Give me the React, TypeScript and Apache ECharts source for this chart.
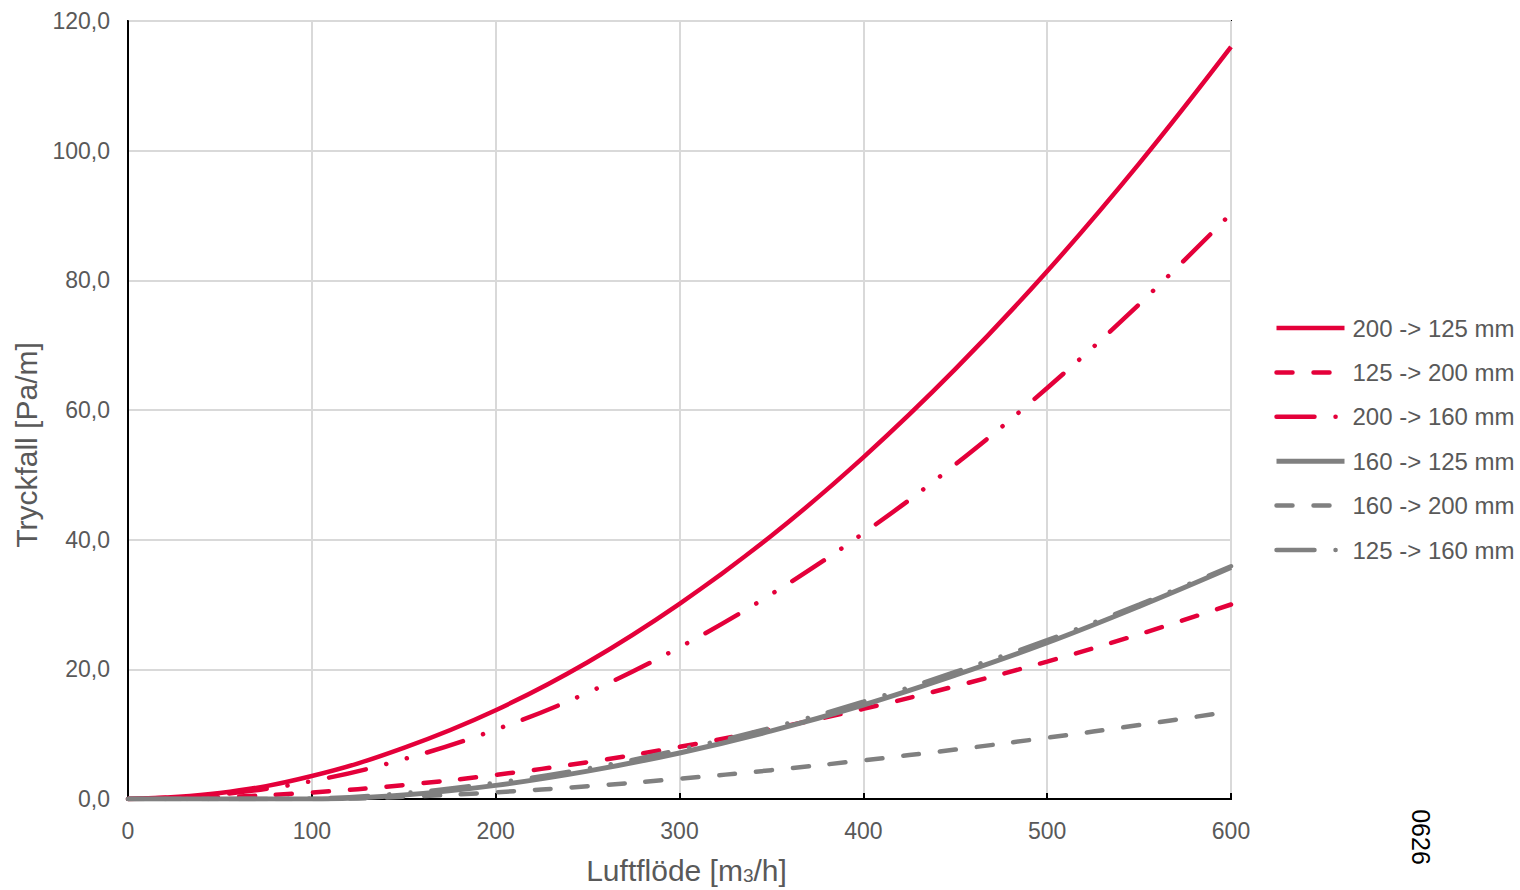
import React, { useEffect, useRef } from "react";
import * as echarts from "echarts";

const xValues = [0, 50, 100, 150, 200, 250, 300, 350, 400, 450, 500, 550, 600];
const xTicks = ["0", "100", "200", "300", "400", "500", "600"];
const yTicks = ["0,0", "20,0", "40,0", "60,0", "80,0", "100,0", "120,0"];

const s200to125 = [0, 0.92, 3.55, 7.9, 13.7, 21.1, 30.1, 40.6, 52.7, 66.3, 81.4, 98.0, 116.0];
const s125to200 = [0, 0.27, 1.0, 2.15, 3.73, 5.68, 8.04, 10.8, 13.9, 17.4, 21.2, 25.4, 30.0];
const s200to160 = [0, 0.72, 2.77, 6.15, 10.7, 16.4, 23.4, 31.6, 41.0, 51.6, 63.4, 76.3, 90.3];
const s160to125 = [0, 0, 0, 0.62, 2.1, 4.3, 7.1, 10.5, 14.5, 19.1, 24.1, 29.7, 35.7];
const s160to200 = [0, 0, 0, 0.34, 1.03, 1.97, 3.12, 4.45, 5.96, 7.63, 9.45, 11.4, 13.5];
const s125to160 = [0, 0, 0.1, 0.9, 2.5, 4.7, 7.6, 11.0, 15.0, 19.6, 24.5, 30.0, 35.9];

const seriesNames = [
  "200 -> 125 mm",
  "125 -> 200 mm",
  "200 -> 160 mm",
  "160 -> 125 mm",
  "160 -> 200 mm",
  "125 -> 160 mm",
];

const RED = "#e4003a";
const GRAY = "#808080";
const TEXT = "#595959";
const FONT = "'Liberation Sans', Arial, sans-serif";

const dashed = [16, 21];
const dashDotDot = [38, 21, 0.1, 21, 0.1, 21];

function pairs(vals: number[]) {
  return xValues.map((x, i) => [x, vals[i]]);
}

export default function App() {
  const ref = useRef<HTMLDivElement>(null);
  useEffect(() => {
    if (!ref.current) return;
    const chart = echarts.init(ref.current, undefined, { renderer: "svg" });
    const mk = (name: string, vals: number[], color: string, type: any, width: number) => ({
      name,
      type: "line",
      data: pairs(vals),
      smooth: 0.4,
      symbol: "none",
      showSymbol: false,
      lineStyle: { color, width, type, cap: type === "solid" ? "butt" : "round" },
      itemStyle: { color },
      z: 3,
    });
    const option: any = {
      animation: false,
      backgroundColor: "#ffffff",
      textStyle: { fontFamily: FONT },
      grid: {
        left: 128,
        top: 21,
        right: 289,
        bottom: 90,
        show: true,
        borderColor: "#000000",
        borderWidth: 2,
        containLabel: false,
      },
      legend: {
        orient: "vertical",
        left: 1274,
        top: 316,
        padding: 0,
        itemWidth: 68,
        itemHeight: 22,
        itemGap: 20.4,
        itemStyle: { opacity: 0 },
        lineStyle: { width: "inherit", type: "inherit", cap: "inherit", opacity: 1 },
        textStyle: {
          color: TEXT,
          fontSize: 24,
          fontFamily: FONT,
          padding: [0, 0, 0, 3],
        },
        data: seriesNames,
      },
      xAxis: {
        type: "value",
        min: 0,
        max: 600,
        interval: 100,
        name: "Luftflöde [m{s|3}/h]",
        nameLocation: "middle",
        nameGap: 56,
        nameTextStyle: {
          color: TEXT,
          fontSize: 30,
          fontFamily: FONT,
          padding: [0, 0, 0, 14],
          rich: { s: { fontSize: 19, color: TEXT, fontFamily: FONT, verticalAlign: "bottom" } },
        },
        axisLine: { show: true, lineStyle: { color: "#000000", width: 2 } },
        axisTick: { show: true, inside: true, length: 6, lineStyle: { color: "#000000", width: 2 } },
        axisLabel: {
          color: TEXT,
          fontSize: 23,
          fontFamily: FONT,
          margin: 20,
          formatter: (v: number) => xTicks[Math.round(v / 100)] ?? String(v),
        },
        splitLine: { show: true, lineStyle: { color: "#d9d9d9", width: 2 } },
      },
      yAxis: {
        type: "value",
        min: 0,
        max: 120,
        interval: 20,
        name: "Tryckfall [Pa/m]",
        nameLocation: "middle",
        nameGap: 86,
        nameTextStyle: { color: TEXT, fontSize: 30, fontFamily: FONT, padding: [0, 70, 0, 0] },
        axisLine: { show: true, lineStyle: { color: "#000000", width: 2 } },
        axisTick: { show: false },
        axisLabel: {
          color: TEXT,
          fontSize: 23,
          fontFamily: FONT,
          margin: 18,
          formatter: (v: number) => yTicks[Math.round(v / 20)] ?? String(v),
        },
        splitLine: { show: true, lineStyle: { color: "#d9d9d9", width: 2 } },
      },
      graphic: [
        {
          type: "text",
          x: 1421,
          y: 837,
          rotation: -Math.PI / 2,
          style: {
            text: "0626",
            fill: "#000000",
            fontSize: 25,
            fontFamily: FONT,
            align: "center",
            verticalAlign: "middle",
          },
        },
      ],
      series: [
        mk(seriesNames[0], s200to125, RED, "solid", 4.5),
        mk(seriesNames[1], s125to200, RED, dashed, 4.5),
        mk(seriesNames[2], s200to160, RED, dashDotDot, 4.5),
        mk(seriesNames[3], s160to125, GRAY, "solid", 5),
        mk(seriesNames[4], s160to200, GRAY, dashed, 4.5),
        mk(seriesNames[5], s125to160, GRAY, dashDotDot, 4.5),
      ],
    };
    chart.setOption(option);
    return () => chart.dispose();
  }, []);
  return (
    <div
      ref={ref}
      style={{ position: "fixed", left: 0, top: 0, width: 1520, height: 890, background: "#fff" }}
    />
  );
}
